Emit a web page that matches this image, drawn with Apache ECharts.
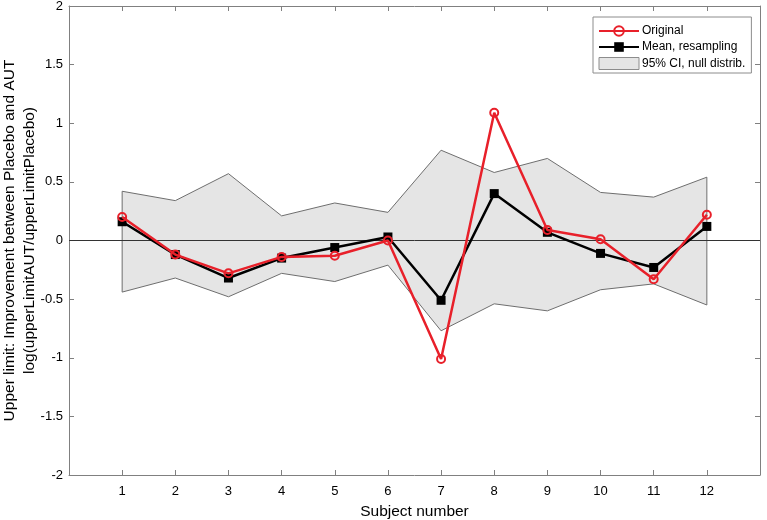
<!DOCTYPE html>
<html>
<head>
<meta charset="utf-8">
<script src="https://cdn.jsdelivr.net/npm/echarts@6/dist/echarts.min.js"></script>
<style>
html,body{margin:0;padding:0;background:#fff;}
#chart{width:767px;height:520px;}
</style>
</head>
<body>
<div id="chart"></div>
<script>
const subjects = [1, 2, 3, 4, 5, 6, 7, 8, 9, 10, 11, 12];
const original = [0.20, -0.12, -0.28, -0.14, -0.13, 0.00, -1.01, 1.09, 0.09, 0.01, -0.33, 0.22];
const meanResampling = [0.16, -0.12, -0.32, -0.15, -0.06, 0.03, -0.51, 0.40, 0.07, -0.11, -0.23, 0.12];
const ciUpper = [0.42, 0.34, 0.57, 0.21, 0.32, 0.24, 0.77, 0.58, 0.70, 0.41, 0.37, 0.54];
const ciLower = [-0.44, -0.32, -0.48, -0.28, -0.35, -0.21, -0.77, -0.54, -0.60, -0.42, -0.37, -0.55];
const xTickLabels = ['1','2','3','4','5','6','7','8','9','10','11','12'];

const FONT = '"Liberation Sans", Arial, sans-serif';
const AXIS_GRAY = '#808080';
const RED = '#e8202a';

const chart = echarts.init(document.getElementById('chart'), null, {renderer: 'canvas'});

const axisCommon = {
  axisLine: {show: true, onZero: false, lineStyle: {color: AXIS_GRAY, width: 1}},
  axisTick: {show: true, inside: true, length: 5, lineStyle: {color: AXIS_GRAY}},
  splitLine: {show: false}
};

const option = {
  animation: false,
  backgroundColor: '#ffffff',
  textStyle: {fontFamily: FONT},
  grid: {left: 69, right: 7, top: 6, bottom: 45, containLabel: false, outerBoundsMode: 'none'},
  legend: {
    orient: 'vertical',
    left: 593,
    top: 17,
    backgroundColor: '#ffffff',
    borderColor: '#8c8c8c',
    borderWidth: 1,
    borderRadius: 0,
    padding: [8, 6, 3, 5],
    itemGap: 4,
    itemWidth: 40,
    itemHeight: 12,
    textStyle: {fontFamily: FONT, fontSize: 12, color: '#000', padding: [0, 0, 0, -2]},
    data: [
      {name: 'Original'},
      {name: 'Mean, resampling'},
      {name: '95% CI, null distrib.', icon: 'rect', itemStyle: {color: '#e5e5e5', borderColor: '#8c8c8c', borderWidth: 1}}
    ]
  },
  xAxis: [
    Object.assign({}, axisCommon, {
      type: 'value', min: 0, max: 13, interval: 1,
      name: 'Subject number', nameLocation: 'middle', nameGap: 29, nameMoveOverlap: false,
      nameTextStyle: {fontFamily: FONT, fontSize: 15.5, color: '#000'},
      axisLabel: {
        fontFamily: FONT, fontSize: 13, color: '#000', margin: 10,
        showMinLabel: false, showMaxLabel: false,
        formatter: function (v) { const i = subjects.indexOf(v); return i >= 0 ? xTickLabels[i] : ''; }
      },
      axisTick: {show: true, inside: true, length: 5, lineStyle: {color: AXIS_GRAY},
        customValues: subjects}
    }),
    Object.assign({}, axisCommon, {
      type: 'value', min: 0, max: 13, interval: 1, position: 'top',
      axisLabel: {show: false},
      axisTick: {show: true, inside: true, length: 5, lineStyle: {color: AXIS_GRAY},
        customValues: subjects}
    })
  ],
  yAxis: [
    Object.assign({}, axisCommon, {
      type: 'value', min: -2, max: 2, interval: 0.5,
      name: 'Upper limit: Improvement between Placebo and AUT\nlog(upperLimitAUT/upperLimitPlacebo)',
      nameLocation: 'middle', nameGap: 29, nameRotate: 90, nameMoveOverlap: false,
      nameTextStyle: {fontFamily: FONT, fontSize: 15.5, color: '#000', lineHeight: 20},
      axisLabel: {fontFamily: FONT, fontSize: 13, color: '#000', margin: 6}
    }),
    Object.assign({}, axisCommon, {
      type: 'value', min: -2, max: 2, interval: 0.5, position: 'right',
      axisLabel: {show: false}
    })
  ],
  series: [
    {
      name: '95% CI, null distrib.',
      type: 'custom',
      z: 1,
      itemStyle: {color: '#e5e5e5'},
      data: [[subjects[0], ciUpper[0]]],
      encode: {x: 0, y: 1},
      renderItem: function (params, api) {
        if (params.dataIndex !== 0) return;
        const pts = [];
        for (let i = 0; i < subjects.length; i++) pts.push(api.coord([subjects[i], ciUpper[i]]));
        for (let i = subjects.length - 1; i >= 0; i--) pts.push(api.coord([subjects[i], ciLower[i]]));
        return {
          type: 'polygon',
          shape: {points: pts},
          style: {fill: '#e5e5e5', stroke: '#6e6e6e', lineWidth: 1}
        };
      }
    },
    {
      name: 'zero',
      type: 'line',
      z: 2,
      silent: true,
      symbol: 'none',
      data: [[0, 0], [13, 0]],
      lineStyle: {color: '#333333', width: 1},
      itemStyle: {color: '#333333'}
    },
    {
      name: 'Mean, resampling',
      type: 'line',
      z: 3,
      data: subjects.map((s, i) => [s, meanResampling[i]]),
      symbol: 'rect',
      symbolSize: 9,
      lineStyle: {color: '#000000', width: 2.5},
      itemStyle: {color: '#000000', borderColor: '#000000', borderWidth: 0}
    },
    {
      name: 'Original',
      type: 'line',
      z: 4,
      data: subjects.map((s, i) => [s, original[i]]),
      symbol: 'circle',
      symbolSize: 8,
      lineStyle: {color: RED, width: 2.5},
      itemStyle: {color: 'rgba(255,255,255,0)', borderColor: RED, borderWidth: 2}
    }
  ]
};
chart.setOption(option);
</script>
</body>
</html>
